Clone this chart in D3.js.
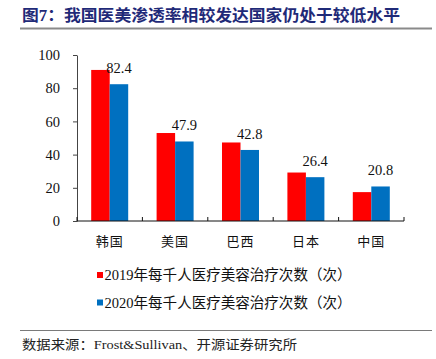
<!DOCTYPE html>
<meta charset="utf-8">
<style>
body { margin: 0; background: #fff; }
text { font-family: "Liberation Serif", "Times New Roman", "Noto Sans CJK SC", serif; }
.cjk { font-family: "Liberation Serif", "Noto Sans CJK SC", sans-serif; }
</style>
<body>
<script src="https://d3js.org/d3.v7.min.js"></script>
<script>

// data
const countries = ["韩国", "美国", "巴西", "日本", "中国"];
const v2019 = [91, 53, 47.3, 29.2, 17.4];
const v2020 = [82.4, 47.9, 42.8, 26.4, 20.8];
const seriesNames = ["2019年每千人医疗美容治疗次数（次）", "2020年每千人医疗美容治疗次数（次）"];
const yTicks = [0, 20, 40, 60, 80, 100];
const colors = ["#ff0000", "#0070c0"];

const W = 436, H = 359;

const svg = d3.select("body").append("svg")
    .attr("width", W)
    .attr("height", H);

// title + rule
svg.append("text")
    .attr("class", "cjk")
    .attr("x", 22).attr("y", 21)
    .attr("textLength", 378).attr("lengthAdjust", "spacingAndGlyphs")
    .style("font-size", "16px").style("font-weight", "bold")
    .attr("fill", "#1f2a78")
    .text("图7：我国医美渗透率相较发达国家仍处于较低水平");

svg.append("line")
    .attr("x1", 20).attr("x2", 432).attr("y1", 28.5).attr("y2", 28.5)
    .attr("stroke", "#8a8a8a").attr("stroke-width", 2);

// scales
const x = d3.scaleBand().domain(countries).range([77, 404]).padding(0);
const x1 = d3.scaleBand().domain([0, 1]).range([-18.5, 18.5]);
const y = d3.scaleLinear().domain([0, 100]).range([221, 55]);

// y axis
const yAxis = svg.append("g")
    .attr("transform", "translate(77,0)")
    .call(d3.axisLeft(y).tickValues(yTicks).tickSize(4).tickSizeOuter(0).tickPadding(13));
yAxis.select(".domain").attr("stroke", "#444");
yAxis.selectAll(".tick line").attr("stroke", "#444");
yAxis.selectAll("text").style("font-size", "14.5px").attr("fill", "#111")
    .style("font-family", "'Liberation Serif', serif");

// bars
const groups = svg.append("g").selectAll("g")
    .data(countries)
    .join("g")
    .attr("transform", d => "translate(" + (x(d) + x.bandwidth() / 2) + ",0)");

[v2019, v2020].forEach((vals, s) => {
  groups.append("rect")
      .attr("x", x1(s))
      .attr("width", x1.bandwidth())
      .attr("y", (d, i) => y(vals[i]))
      .attr("height", (d, i) => y(0) - y(vals[i]))
      .attr("fill", colors[s]);
});

// value labels (2020 only)
groups.append("text")
    .attr("x", x1(1) + x1.bandwidth() / 2)
    .attr("y", (d, i) => y(v2020[i]) - 11)
    .attr("text-anchor", "middle")
    .style("font-size", "14.5px")
    .attr("fill", "#111")
    .text((d, i) => v2020[i]);

// x axis
svg.append("line")
    .attr("x1", 77).attr("x2", 404).attr("y1", 221).attr("y2", 221)
    .attr("stroke", "#111");
const bounds = countries.map(c => x(c)).concat([x.range()[1]]);
svg.append("g").selectAll("line")
    .data(bounds)
    .join("line")
    .attr("x1", d => d).attr("x2", d => d)
    .attr("y1", 217).attr("y2", 221)
    .attr("stroke", "#111");
svg.append("g").selectAll("text")
    .data(countries)
    .join("text")
    .attr("class", "cjk")
    .attr("x", d => x(d) + x.bandwidth() / 2)
    .attr("y", 246)
    .attr("text-anchor", "middle")
    .style("font-size", "13px")
    .style("letter-spacing", "1px")
    .attr("fill", "#111")
    .text(d => d);

// legend
const legend = svg.append("g").selectAll("g")
    .data(seriesNames)
    .join("g")
    .attr("transform", (d, i) => "translate(97," + (275 + i * 27.5) + ")");
legend.append("rect")
    .attr("x", 0).attr("y", -3)
    .attr("width", 6).attr("height", 6)
    .attr("fill", (d, i) => colors[i]);
legend.append("text")
    .attr("class", "cjk")
    .attr("x", 7.5).attr("y", 5)
    .attr("textLength", 247).attr("lengthAdjust", "spacingAndGlyphs")
    .style("font-size", "14.5px")
    .attr("fill", "#111")
    .text(d => d);

// source
svg.append("line")
    .attr("x1", 20).attr("x2", 432).attr("y1", 330.5).attr("y2", 330.5)
    .attr("stroke", "#7a7a7a").attr("stroke-width", 1);
svg.append("text")
    .attr("class", "cjk")
    .attr("x", 22).attr("y", 349)
    .attr("textLength", 275).attr("lengthAdjust", "spacingAndGlyphs")
    .style("font-size", "13px")
    .attr("fill", "#222")
    .text("数据来源：Frost&Sullivan、开源证券研究所");

</script>
</body>
